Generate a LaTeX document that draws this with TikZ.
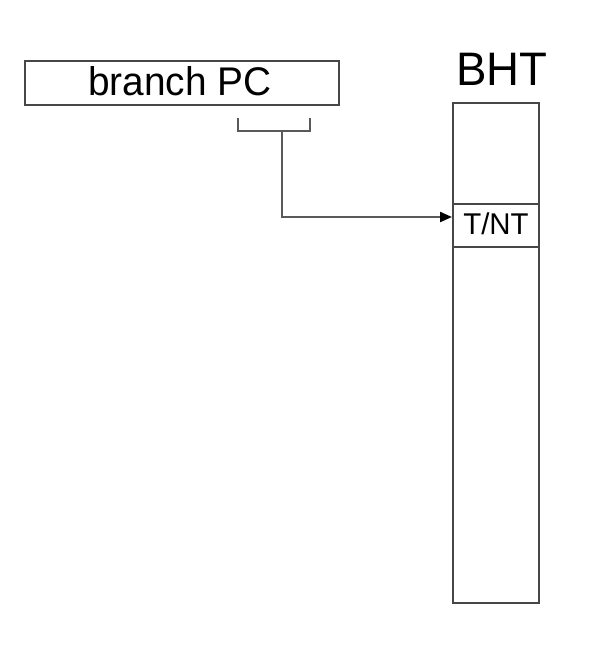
\documentclass[tikz,border=0pt]{standalone}
\usepackage{fontspec}
\setmainfont{Liberation Sans}
\usetikzlibrary{arrows.meta}
\begin{document}
\begin{tikzpicture}[x=1pt,y=-1pt,
  boxline/.style={draw=black!72,line width=2.2pt},
  conn/.style={draw=black!65,line width=2.2pt},
  tip/.style={-{Triangle[length=12pt,width=10pt,color=black]}}]
\useasboundingbox (0,0) rectangle (607,646);
% branch PC register
\node[boxline,minimum width=314pt,minimum height=44pt,anchor=north west,inner sep=0pt] (pc) at (24,60) {};
\node[font=\fontsize{40}{40}\selectfont,xscale=0.97] (pctext) at (180,81) {branch PC};
% BHT
\node[boxline,minimum width=86pt,minimum height=500pt,anchor=north west,inner sep=0pt] (bht) at (452,102) {};
\node[font=\fontsize{47}{47}\selectfont,xscale=0.97] (bhtlabel) at (502,69) {BHT};
\node[boxline,minimum width=86pt,minimum height=43pt,anchor=north west,inner sep=0pt] (row) at (452,203) {};
\node[font=\fontsize{30}{30}\selectfont,xscale=0.98] (rowtext) at (496,224) {T/NT};
% index bits bracket
\coordinate (bl) at (238,118);
\coordinate (br) at (310,118);
\coordinate (stem) at (282,131);
\coordinate (hit) at (452,217);
\draw[conn] (bl) -- (238,131) -- (310,131) -- (br);
\draw[conn,tip] (stem) |- (row.west |- hit);
\end{tikzpicture}
\end{document}
